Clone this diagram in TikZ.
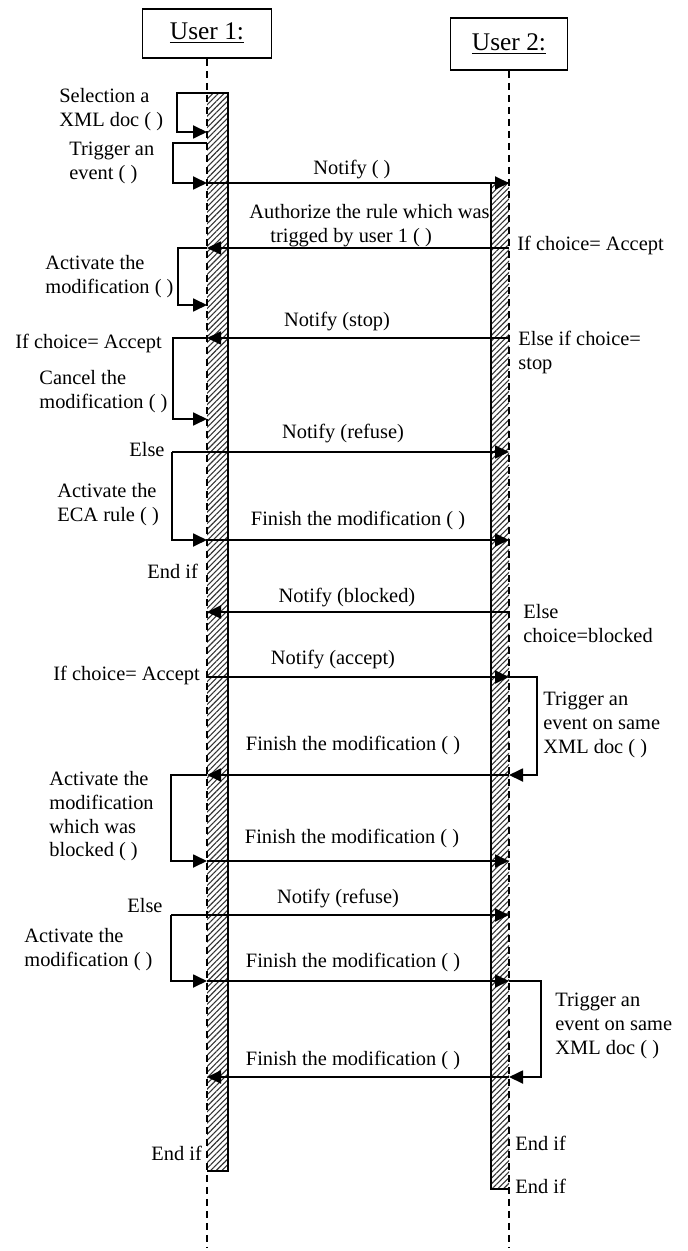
\documentclass[tikz,border=0pt]{standalone}
\usepackage{fontspec}
\setmainfont{Liberation Serif}
\usetikzlibrary{arrows.meta,patterns.meta}
\begin{document}
\begin{tikzpicture}[x=0.5pt,y=-0.5pt]
        \tikzset{head/.style={draw,line width=0.8pt,minimum width=64.5pt,minimum height=24.5pt,
                font=\fontsize{12.7pt}{15pt}\selectfont},
            lifeline/.style={dash pattern=on 3.5pt off 2.5pt,line width=0.8pt},
            bar/.style={pattern={Lines[angle=45,distance=2pt,line width=0.55pt]},pattern color=black!80},
            edge/.style={line width=0.9pt},
            msg/.style={edge,-{Triangle[length=7pt,width=6.5pt]}},
            lbl/.style={inner sep=0pt,anchor=north west,align=left,
                font=\fontsize{10.2pt}{11.9pt}\selectfont},
            mlbl/.style={lbl,anchor=base}}
        \useasboundingbox (0,0) rectangle (688,1251);
        \node[head] (u1) at (207,33.5) {\underline{User 1:}};
        \node[head,minimum width=58.5pt,minimum height=26pt] (u2) at (509,44) {\underline{User 2:}};
        \coordinate (u1end) at (207,1248);
        \coordinate (u2end) at (509,1248);
        \fill[bar] (207,93) rectangle (228,1171);
        \draw[edge] (207,93) -- (228,93) -- (228,1171) -- (207,1171);
        \fill[bar] (491,183) rectangle (509,1189);
        \draw[edge] (509,183) -- (491,183) -- (491,1189) -- (509,1189);
        \draw[lifeline] (u1.south) -- (u1end);
        \draw[lifeline] (u2.south) -- (u2end);
        \foreach \n/\y in {0/93,1/183,2/248,3/338,4/452,5/540,6/612,7/677,8/775,9/861,10/915,11/981,12/1077}
            {\coordinate (p\n) at (207,\y); \coordinate (q\n) at (509,\y);}
        \coordinate (s1) at (207,132);
        \coordinate (t0) at (207,143);
        \coordinate (r2) at (207,305);
        \coordinate (r3) at (207,419);
        \coordinate (e4) at (172,452);
        \coordinate (e10) at (171,915);
        \draw[msg] (p0) -- ++(-30,0) |- (s1);
        \draw[msg] (t0) -- ++(-34,0) |- (p1);
        \draw[msg] (p2) -- ++(-29,0) |- (r2);
        \draw[msg] (p3) -- ++(-34,0) |- (r3);
        \draw[msg] (e4) |- (p5);
        \draw[msg] (p8) -- ++(-36,0) |- (p9);
        \draw[msg] (e10) |- (p11);
        \draw[msg] (q7) -- ++(28,0) |- (q8);
        \draw[msg] (q11) -- ++(32,0) |- (q12);
        \draw[msg] (p1) -- (q1);
        \draw[msg] (q2) -- (p2);
        \draw[msg] (q3) -- (p3);
        \draw[msg] (e4) -- (q4);
        \draw[msg] (p5) -- (q5);
        \draw[msg] (q6) -- (p6);
        \draw[msg] (p7) -- (q7);
        \draw[msg] (q8) -- (p8);
        \draw[msg] (p9) -- (q9);
        \draw[msg] (e10) -- (q10);
        \draw[msg] (p11) -- (q11);
        \draw[msg] (q12) -- (p12);
        \node[lbl] (sel) at (59,88) {Selection a\\XML doc ( )};
        \node[lbl] (trig) at (69,142) {Trigger an\\event ( )};
        \node[lbl] (act1) at (45,255) {Activate the\\modification ( )};
        \node[lbl] (if1) at (15,334) {If choice= Accept};
        \node[lbl] (canc) at (39,370) {Cancel the\\modification ( )};
        \node[lbl] (else1) at (129,442) {Else};
        \node[lbl] (eca) at (57,483) {Activate the\\ECA rule ( )};
        \node[lbl] (end1) at (147,564) {End if};
        \node[lbl] (if2) at (53,666) {If choice= Accept};
        \node[lbl] (act2) at (49,771) {Activate the\\modification\\which was\\blocked ( )};
        \node[lbl] (else2) at (127,898) {Else};
        \node[lbl] (act3) at (24,928) {Activate the\\modification ( )};
        \node[lbl] (end2) at (151,1146) {End if};
        \node[lbl] (ifr) at (517,236) {If choice= Accept};
        \node[lbl] (elsr1) at (518,331) {Else if choice=\\stop};
        \node[lbl] (elsr2) at (523,604) {Else\\choice=blocked};
        \node[lbl] (trr1) at (543,692) {Trigger an\\event on same\\XML doc ( )};
        \node[lbl] (trr2) at (555,993) {Trigger an\\event on same\\XML doc ( )};
        \node[lbl] (endr1) at (515,1136) {End if};
        \node[lbl] (endr2) at (515,1179) {End if};
        \node[mlbl] (n1) at (352,175) {Notify ( )};
        \node[lbl] (n2) at (249,204) {Authorize the rule which was\\\hspace*{10.5pt}trigged by user 1 ( )};
        \node[mlbl] (n3) at (337,327) {Notify (stop)};
        \node[mlbl] (n4) at (343,438) {Notify (refuse)};
        \node[mlbl] (n5) at (358,525) {Finish the modification ( )};
        \node[mlbl] (n6) at (347,602) {Notify (blocked)};
        \node[mlbl] (n7) at (333,664) {Notify (accept)};
        \node[mlbl] (n8) at (353,750) {Finish the modification ( )};
        \node[mlbl] (n9) at (352,843) {Finish the modification ( )};
        \node[mlbl] (n10) at (338,903) {Notify (refuse)};
        \node[mlbl] (n11) at (353,967) {Finish the modification ( )};
        \node[mlbl] (n12) at (353,1065) {Finish the modification ( )};
    \end{tikzpicture}
\end{document}
